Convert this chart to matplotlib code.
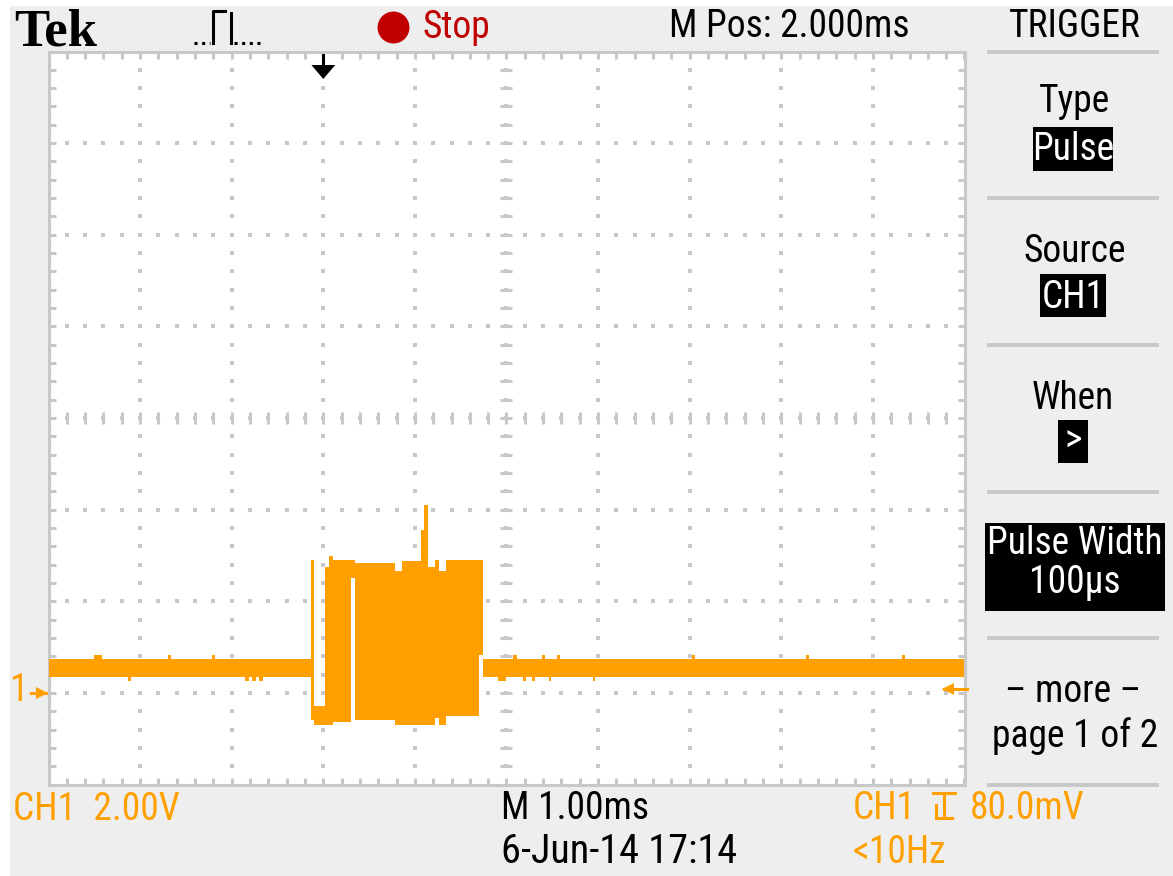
import numpy as np
import matplotlib
matplotlib.use("Agg")
import matplotlib.pyplot as plt
import matplotlib.transforms as mtransforms
from matplotlib import font_manager as fm
from matplotlib.patches import Rectangle, Polygon
from matplotlib.lines import Line2D

W, H = 1173, 876

# CH1 trace (time in ms, level in V)
seg_t0 = [-3.00, -0.134, -0.101, 0.019, 0.062, 0.106, 0.302, 0.346, 0.783,
          0.859, 1.067, 1.101, 1.144, 1.220, 1.263, 1.340, 1.700, 1.744]
seg_t1 = [-0.134, -0.101, 0.019, 0.062, 0.106, 0.302, 0.346, 0.783, 0.859,
          1.067, 1.101, 1.144, 1.220, 1.263, 1.340, 1.700, 1.744, 7.00]
seg_lo = [0.35, -0.59, -0.70, -0.70, -0.70, -0.63, 2.51, -0.59, -0.70,
          -0.70, -0.70, -0.70, -0.70, -0.55, -0.70, -0.50, 0.83, 0.35]
seg_hi = [0.74, 2.90, -0.28, 2.75, 2.99, 2.90, 2.90, 2.84, 2.66,
          2.88, 3.56, 4.10, 2.75, 2.90, 2.66, 2.90, 2.90, 0.74]

# small noise blips on the idle line
bump_t = [-2.50, -2.13, -1.69, -1.21, -0.85, -0.78, -0.70, 1.91, 2.07,
          2.18, 2.28, 2.39, 2.46, 2.55, 2.94, 4.03, 5.27, 6.32]
bump_w = [0.087, 0.03, 0.03, 0.03, 0.04, 0.04, 0.04, 0.08, 0.05,
          0.03, 0.03, 0.03, 0.03, 0.03, 0.03, 0.03, 0.03, 0.03]
bump_v = [0.83, 0.26, 0.83, 0.83, 0.26, 0.26, 0.26, 0.26, 0.83,
          0.26, 0.26, 0.83, 0.26, 0.83, 0.26, 0.83, 0.83, 0.83]
base_lo, base_hi = 0.35, 0.74

t_min, t_max = -3.0, 7.0      # M Pos 2.000ms, 1.00ms/div
v_min, v_max = -2.0, 14.0     # 2.00V/div, ground one div above bottom
t_div, v_div = 1.0, 2.0
trig_level = 0.08             # 80.0mV

ORANGE = "#FFA000"; PANEL = "#EEEEEE"; GRID = "#C8C8C8"; RED = "#C00000"

# the scope font is tall and narrow: use a condensed face if one is installed
FAMILY, STRETCH, FS = "DejaVu Sans", "normal", 21
_pref = ["Liberation Sans Narrow", "Roboto Condensed", "Noto Sans", "Open Sans",
         "DejaVu Sans", "Roboto"]
_cond = [f for f in fm.fontManager.ttflist
         if f.style == "normal" and f.weight in (400, "normal", "regular")
         and (f.stretch in ("condensed", "semi-condensed", "extra-condensed")
              or "Narrow" in f.name or "Condensed" in f.name)]
for p in _pref:
    hit = [f for f in _cond if f.name.startswith(p)]
    if hit:
        FAMILY, STRETCH, FS = hit[0].name, hit[0].stretch, 27
        break
FONT = [FAMILY, "DejaVu Sans"]


def fx(px):
    return px / W


def fy(py):
    return 1 - py / H


fig = plt.figure(figsize=(W / 100, H / 100), dpi=100, facecolor="white")
fig.add_artist(Rectangle((fx(10), 0), 1 - fx(10), fy(6), transform=fig.transFigure,
                         facecolor=PANEL, edgecolor="none", zorder=-5))

ax = fig.add_axes([fx(48.5), fy(784.5), fx(964.5) - fx(48.5), fy(51.5) - fy(784.5)])
ax.set_facecolor("white")
ax.set_xlim(t_min, t_max); ax.set_ylim(v_min, v_max)

# border + ticks
for s in ax.spines.values():
    s.set_color(GRID); s.set_linewidth(2.2)
minor_x = np.arange(t_min, t_max + 1e-9, t_div / 5)
minor_y = np.arange(v_min, v_max + 1e-9, v_div / 5)
ax.set_xticks(minor_x); ax.set_yticks(minor_y)
ax.tick_params(direction="in", length=5, width=2.2, color=GRID, top=True, right=True,
               labelbottom=False, labelleft=False)

# dotted graticule
major_x = np.arange(t_min + t_div, t_max - 1e-9, t_div)
major_y = np.arange(v_min + v_div, v_max - 1e-9, v_div)
for x in major_x:
    ax.plot(np.full(len(minor_y) - 2, x), minor_y[1:-1], ls="none", marker="s",
            ms=2.2, mew=0, color=GRID, zorder=1)
for y in major_y:
    ax.plot(minor_x[1:-1], np.full(len(minor_x) - 2, y), ls="none", marker="s",
            ms=2.2, mew=0, color=GRID, zorder=1)
xc, yc = (t_min + t_max) / 2, (v_min + v_max) / 2
ax.plot(np.full(len(minor_y) - 2, xc), minor_y[1:-1], ls="none", marker="_",
        ms=8, mew=2.2, color=GRID, zorder=1)
ax.plot(minor_x[1:-1], np.full(len(minor_x) - 2, yc), ls="none", marker="|",
        ms=8, mew=2.2, color=GRID, zorder=1)

# trace: one stepped envelope, then the small blips
ax.fill_between(seg_t0 + seg_t1[-1:], seg_lo + seg_lo[-1:], seg_hi + seg_hi[-1:],
                step="post", color=ORANGE, lw=0, zorder=3)
for t, w, v in zip(bump_t, bump_w, bump_v):
    lo, hi = min(v, base_lo), max(v, base_hi)
    ax.fill_between([t, t + w], [lo, lo], [hi, hi], color=ORANGE, lw=0, zorder=3)

# ground marker "1->" and trigger level arrow
gy = mtransforms.blended_transform_factory(fig.transFigure, ax.transData)
ax.text(fx(19), 0.05, "1", transform=gy, ha="center", va="center", color=ORANGE,
        fontsize=FS, family=FONT, stretch=STRETCH, clip_on=False)
ax.plot([fx(31), fx(46)], [0, 0], transform=gy, color=ORANGE, lw=2.2, clip_on=False)
ax.plot([fx(42)], [0], transform=gy, marker=">", ms=8, mew=0, color=ORANGE, clip_on=False)
ax.plot([fx(944), fx(967)], [trig_level] * 2, transform=gy, color=ORANGE, lw=2.2,
        clip_on=False, zorder=5)
ax.plot([fx(948)], [trig_level], transform=gy, marker="<", ms=9, mew=0, color=ORANGE,
        clip_on=False, zorder=5)

# trigger position arrow at t = 0
tx = mtransforms.blended_transform_factory(ax.transData, fig.transFigure)
ax.plot([0, 0], [fy(53), fy(66)], transform=tx, color="black", lw=2.2, clip_on=False)
ax.add_patch(Polygon([(-0.13, fy(65)), (0.13, fy(65)), (0, fy(79))], closed=True,
                     transform=tx, facecolor="black", edgecolor="none", clip_on=False))


def txt(px, py, s, ha="left", color="black", size=None, **kw):
    fam = kw.pop("family", FONT)
    st = kw.pop("stretch", STRETCH)
    fig.text(fx(px), fy(py), s, ha=ha, va="baseline", color=color,
             fontsize=size or FS, family=fam, stretch=st, **kw)


def box(x0, y0, x1, y1):
    fig.add_artist(Rectangle((fx(x0), fy(y1)), fx(x1) - fx(x0), fy(y0) - fy(y1),
                             transform=fig.transFigure, facecolor="black",
                             edgecolor="none"))


# top bar
txt(14, 45, "Tek", size=38, weight="bold", family=["Liberation Serif", "DejaVu Serif"],
    stretch="normal")
fig.add_artist(Line2D([fx(213), fx(213), fx(225)], [fy(43), fy(11), fy(11)], color="black",
                      lw=2.2, transform=fig.transFigure))
fig.add_artist(Line2D([fx(231), fx(231)], [fy(13), fy(43)], color="black", lw=2.2,
                      transform=fig.transFigure))
fig.add_artist(Line2D([fx(194), fx(210)], [fy(43), fy(43)], color="black", lw=2.2,
                      ls=(0, (1, 1.5)), transform=fig.transFigure))
fig.add_artist(Line2D([fx(234), fx(260)], [fy(43), fy(43)], color="black", lw=2.2,
                      ls=(0, (1, 1.5)), transform=fig.transFigure))
fig.add_artist(Line2D([fx(393)], [fy(27)], marker="o", ms=23, mew=0, color=RED,
                      transform=fig.transFigure))
txt(423, 38, "Stop", color=RED)
txt(669, 37, "M Pos: 2.000ms")
txt(1075, 37, "TRIGGER", ha="center")

# right-hand menu
for py in [52, 198, 345, 492, 638, 785]:
    fig.add_artist(Line2D([fx(989), fx(1157)], [fy(py), fy(py)], color=GRID, lw=2.8,
                          transform=fig.transFigure))
txt(1075, 112, "Type", ha="center")
box(1033, 127, 1113, 171)
txt(1073, 160, "Pulse", ha="center", color="white")
txt(1075, 262, "Source", ha="center")
box(1040, 274, 1106, 317)
txt(1073, 308, "CH1", ha="center", color="white")
txt(1073, 409, "When", ha="center")
box(1058, 420, 1088, 463)
txt(1073, 452, ">", ha="center", color="white")
box(985, 523, 1165, 611)
txt(1075, 554, "Pulse Width", ha="center", color="white")
txt(1075, 593, "100\u00b5s", ha="center", color="white")
txt(1073, 702, "\u2013 more \u2013", ha="center")
txt(1075, 747, "page 1 of 2", ha="center")

# bottom status line
txt(13, 820, "CH1  2.00V", color=ORANGE)
txt(501, 819, "M 1.00ms")
txt(501, 863, "6-Jun-14 17:14", size=FS + 2)
txt(853, 819, "CH1", color=ORANGE)
for xs, ys in [([933, 955], [793, 793]), ([944, 944], [793, 818]),
               ([936, 952], [818, 818]), ([936, 936], [805, 818])]:
    fig.add_artist(Line2D([fx(v) for v in xs], [fy(v) for v in ys], color=ORANGE, lw=2.2,
                          transform=fig.transFigure))
txt(970, 819, "80.0mV", color=ORANGE)
txt(853, 863, "<10Hz", color=ORANGE)

fig.savefig("out.png", dpi=100, facecolor="white")
